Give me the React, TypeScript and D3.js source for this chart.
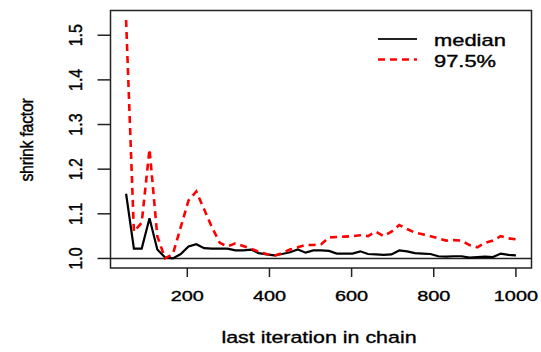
import { useEffect, useRef } from "react";
import * as d3 from "d3";

// last iteration of each bin (coda gelman.plot style)
const lastIter = [
	51, 70, 89, 108, 127, 146, 165, 184, 203, 222, 241, 260, 279, 298, 317, 336,
	355, 374, 393, 412, 431, 450, 469, 488, 507, 526, 545, 564, 583, 602, 621,
	640, 659, 678, 697, 716, 735, 754, 773, 792, 811, 830, 849, 868, 887, 906,
	925, 944, 963, 982, 1000,
];

const median = [
	1.145, 1.022, 1.022, 1.09, 1.02, 1.002, 1.0, 1.01, 1.027, 1.032, 1.023,
	1.022, 1.022, 1.022, 1.018, 1.018, 1.02, 1.012, 1.009, 1.007, 1.01, 1.014,
	1.02, 1.013, 1.018, 1.018, 1.017, 1.011, 1.011, 1.011, 1.016, 1.01, 1.009,
	1.008, 1.009, 1.018, 1.016, 1.012, 1.011, 1.01, 1.005, 1.004, 1.005, 1.005,
	1.002, 1.003, 1.004, 1.003, 1.011, 1.008, 1.007,
];

const upper = [
	1.534, 1.06, 1.08, 1.245, 1.05, 1.0, 1.01, 1.07, 1.13, 1.15, 1.11, 1.07,
	1.035, 1.027, 1.034, 1.028, 1.022, 1.015, 1.01, 1.006, 1.012, 1.02, 1.025,
	1.03, 1.03, 1.032, 1.047, 1.048, 1.049, 1.05, 1.052, 1.05, 1.06, 1.05, 1.06,
	1.075, 1.066, 1.058, 1.054, 1.05, 1.045, 1.04, 1.041, 1.04, 1.03, 1.025,
	1.035, 1.04, 1.05, 1.045, 1.043,
];

const xTicks = [200, 400, 600, 800, 1000];
const yTicks = [1.0, 1.1, 1.2, 1.3, 1.4, 1.5];
const legendLabels = ["median", "97.5%"];

const W = 541;
const H = 352;

const GelmanPlot = () => {
	const svgRef = useRef<SVGSVGElement>(null);

	useEffect(() => {
		if (!svgRef.current) return;
		const svg = d3.select(svgRef.current);
		svg.selectAll("*").remove();

		const left = 110.5;
		const right = 531.5;
		const top = 10.5;
		const bottom = 268;
		const font = "'Liberation Sans', Arial, sans-serif";
		const sx = 1.37; // the picture is stretched horizontally

		// R-style 4% padding
		const xr = d3.extent(lastIter) as [number, number];
		const xp = (xr[1] - xr[0]) * 0.04;
		const all = median.concat(upper);
		const yr = d3.extent(all) as [number, number];
		const yp = (yr[1] - yr[0]) * 0.04;

		const x = d3.scaleLinear().domain([xr[0] - xp, xr[1] + xp]).range([left, right]);
		const y = d3.scaleLinear().domain([yr[0] - yp, yr[1] + yp]).range([bottom, top]);

		const line = d3
			.line<number>()
			.x((_, i) => x(lastIter[i]))
			.y((d) => y(d));

		const addText = (sel: any) =>
			sel
				.style("font-family", font)
				.attr("fill", "#000")
				.attr("stroke", "#000")
				.attr("stroke-width", 0.35);

		// reference line at 1
		svg
			.append("line")
			.attr("x1", left)
			.attr("x2", right)
			.attr("y1", y(1))
			.attr("y2", y(1))
			.attr("stroke", "#222")
			.attr("stroke-width", 1.5);

		svg
			.append("path")
			.attr("d", line(median)!)
			.attr("fill", "none")
			.attr("stroke", "#000")
			.attr("stroke-width", 2.2);

		svg
			.append("path")
			.attr("d", line(upper)!)
			.attr("fill", "none")
			.attr("stroke", "#ff0000")
			.attr("stroke-width", 2.6)
			.attr("stroke-dasharray", "7,5");

		// box
		svg
			.append("rect")
			.attr("x", left)
			.attr("y", top)
			.attr("width", right - left)
			.attr("height", bottom - top)
			.attr("fill", "none")
			.attr("stroke", "#222")
			.attr("stroke-width", 1.5);

		// x axis
		const gx = svg.append("g");
		xTicks.forEach((t) => {
			gx.append("line")
				.attr("x1", x(t))
				.attr("x2", x(t))
				.attr("y1", bottom)
				.attr("y2", bottom + 9)
				.attr("stroke", "#222")
				.attr("stroke-width", 1.5);
			addText(
				gx.append("text")
					.attr("transform", `translate(${x(t)},301) scale(${sx},1)`)
					.attr("text-anchor", "middle")
					.style("font-size", "14.5px")
			).text(String(t));
		});

		// y axis
		const gy = svg.append("g");
		yTicks.forEach((t) => {
			gy.append("line")
				.attr("x1", left - 13)
				.attr("x2", left)
				.attr("y1", y(t))
				.attr("y2", y(t))
				.attr("stroke", "#222")
				.attr("stroke-width", 1.5);
			addText(
				gy.append("text")
					.attr("transform", `translate(82,${y(t)}) rotate(-90) scale(1,1.15)`)
					.attr("text-anchor", "middle")
					.style("font-size", "16px")
			).text(d3.format(".1f")(t));
		});

		// axis titles
		addText(
			svg
				.append("text")
				.attr("transform", `translate(${(left + right) / 2 - 2},343) scale(1.26,1)`)
				.attr("text-anchor", "middle")
				.style("font-size", "17px")
		).text("last iteration in chain");

		addText(
			svg
				.append("text")
				.attr("transform", `translate(33,140) rotate(-90) scale(1,1.15)`)
				.attr("text-anchor", "middle")
				.style("font-size", "16px")
				.style("letter-spacing", "-0.3px")
		).text("shrink factor");

		// legend
		const legendY = [39, 59.5];
		const styles = [
			{ color: "#222", dash: "none", w: 2 },
			{ color: "#ff0000", dash: "7,5", w: 2.5 },
		];
		legendLabels.forEach((lab, i) => {
			svg
				.append("line")
				.attr("x1", 378)
				.attr("x2", 417)
				.attr("y1", legendY[i])
				.attr("y2", legendY[i])
				.attr("stroke", styles[i].color)
				.attr("stroke-width", styles[i].w)
				.attr("stroke-dasharray", styles[i].dash);
			addText(
				svg
					.append("text")
					.attr("transform", `translate(434,${legendY[i] + 7}) scale(${sx},1)`)
					.style("font-size", "16px")
			).text(lab);
		});
	}, []);

	return (
		<svg
			ref={svgRef}
			width={W}
			height={H}
			style={{ position: "absolute", left: 0, top: 0, background: "#fff" }}
		/>
	);
};

export default function App() {
	return <GelmanPlot />;
}
